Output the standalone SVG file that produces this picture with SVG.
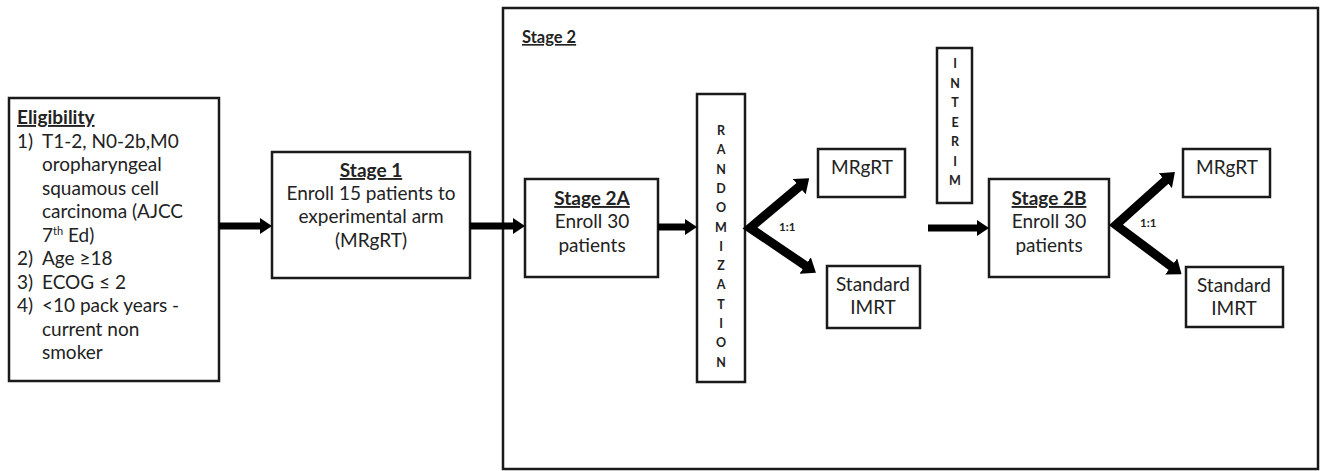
<svg xmlns="http://www.w3.org/2000/svg" width="1325" height="471" viewBox="0 0 1325 471">
<defs>
<style>
.box{fill:#fff;stroke:#1a1a1a;stroke-width:2.5}
.t{font-family:Lato,"Open Sans",sans-serif;font-size:19px;fill:#222}
.c{text-anchor:middle}
.h{font-weight:bold;text-decoration:underline}
.v{font-family:Lato,"Open Sans",sans-serif;font-size:12.5px;font-weight:bold;fill:#222;text-anchor:middle}
.s{font-family:Lato,"Open Sans",sans-serif;font-size:11.5px;font-weight:bold;fill:#222}
.ar{fill:none;stroke:#000;stroke-width:7;marker-end:url(#ah)}
.dg{fill:none;stroke:#000;stroke-width:9;stroke-linejoin:miter;stroke-miterlimit:10;marker-start:url(#ah2);marker-end:url(#ah2)}
</style>
<marker id="ah" viewBox="0 0 12 16" markerUnits="userSpaceOnUse" markerWidth="12" markerHeight="16" refX="1" refY="8" orient="auto"><path d="M0,0 L12,8 L0,16 Z" fill="#000"/></marker>
<marker id="ah2" viewBox="0 0 13 20" markerUnits="userSpaceOnUse" markerWidth="13" markerHeight="20" refX="1" refY="10" orient="auto-start-reverse"><path d="M0,0 L13,10 L0,20 Z" fill="#000"/></marker>
</defs>
<rect width="1325" height="471" fill="#fff"/>

<g id="stage2-frame">
<rect class="box" x="503" y="8" width="815" height="461"/>
<text class="t h" x="522" y="43" style="font-size:16.5px">Stage 2</text>
</g>

<g id="eligibility">
<rect class="box" x="9" y="98" width="210" height="283"/>
<text class="t h" x="17" y="124">Eligibility</text>
<text class="t" x="17" y="147.5">1)</text>
<text class="t" x="42" y="147.5">T1-2, N0-2b,M0</text>
<text class="t" x="42" y="171">oropharyngeal</text>
<text class="t" x="42" y="194.5">squamous cell</text>
<text class="t" x="42" y="218">carcinoma (AJCC</text>
<text class="t" x="42" y="241.5">7<tspan dy="-7" style="font-size:11px">th</tspan><tspan dy="7"> Ed)</tspan></text>
<text class="t" x="17" y="265">2)</text>
<text class="t" x="42" y="265">Age ≥18</text>
<text class="t" x="17" y="288.5">3)</text>
<text class="t" x="42" y="288.5">ECOG ≤ 2</text>
<text class="t" x="17" y="312">4)</text>
<text class="t" x="42" y="312">&lt;10 pack years -</text>
<text class="t" x="42" y="335.5">current non</text>
<text class="t" x="42" y="359">smoker</text>
</g>

<g id="stage1">
<rect class="box" x="272" y="152" width="198" height="126"/>
<text class="t c h" x="371" y="177">Stage 1</text>
<text class="t c" x="371" y="200">Enroll 15 patients to</text>
<text class="t c" x="371" y="223">experimental arm</text>
<text class="t c" x="371" y="247">(MRgRT)</text>
</g>

<g id="stage2a">
<rect class="box" x="525" y="179" width="133" height="98"/>
<text class="t c h" x="592" y="205">Stage 2A</text>
<text class="t c" x="592" y="228">Enroll 30</text>
<text class="t c" x="592" y="252">patients</text>
</g>

<g id="randomization">
<rect class="box" x="697" y="94" width="48" height="288"/>
<text class="v" x="721" y="135">R</text>
<text class="v" x="721" y="154.3">A</text>
<text class="v" x="721" y="173.6">N</text>
<text class="v" x="721" y="192.9">D</text>
<text class="v" x="721" y="212.2">O</text>
<text class="v" x="721" y="231.5">M</text>
<text class="v" x="721" y="250.8">I</text>
<text class="v" x="721" y="270.1">Z</text>
<text class="v" x="721" y="289.4">A</text>
<text class="v" x="721" y="308.7">T</text>
<text class="v" x="721" y="328">I</text>
<text class="v" x="721" y="347.3">O</text>
<text class="v" x="721" y="366.6">N</text>
</g>

<g id="mrgrt-a">
<rect class="box" x="818" y="149" width="87" height="48"/>
<text class="t c" x="862" y="174">MRgRT</text>
</g>

<g id="imrt-a">
<rect class="box" x="827" y="266" width="93" height="62"/>
<text class="t c" x="873" y="291">Standard</text>
<text class="t c" x="873" y="314">IMRT</text>
</g>

<g id="interim">
<rect class="box" x="937" y="48" width="35" height="155"/>
<text class="v" x="955" y="68">I</text>
<text class="v" x="955" y="87.5">N</text>
<text class="v" x="955" y="107">T</text>
<text class="v" x="955" y="126.5">E</text>
<text class="v" x="955" y="146">R</text>
<text class="v" x="955" y="165.5">I</text>
<text class="v" x="955" y="185">M</text>
</g>

<g id="stage2b">
<rect class="box" x="989" y="179" width="120" height="98"/>
<text class="t c h" x="1049" y="205">Stage 2B</text>
<text class="t c" x="1049" y="228">Enroll 30</text>
<text class="t c" x="1049" y="252">patients</text>
</g>

<g id="mrgrt-b">
<rect class="box" x="1183" y="149" width="87" height="48"/>
<text class="t c" x="1227" y="174">MRgRT</text>
</g>

<g id="imrt-b">
<rect class="box" x="1186" y="267" width="97" height="60"/>
<text class="t c" x="1234" y="292">Standard</text>
<text class="t c" x="1234" y="315">IMRT</text>
</g>

<g id="connectors">
<line class="ar" x1="219" y1="226" x2="261" y2="226"/>
<line class="ar" x1="470" y1="226" x2="514" y2="226"/>
<line class="ar" x1="658" y1="227" x2="686" y2="227"/>
<line class="ar" x1="928" y1="228" x2="978" y2="228"/>
<path class="dg" d="M800,186 L750,228 L806,266"/>
<path class="dg" d="M1166,180 L1116,225 L1172,267"/>
<text class="s" x="779" y="231">1:1</text>
<text class="s" x="1140" y="227">1:1</text>
</g>
</svg>
